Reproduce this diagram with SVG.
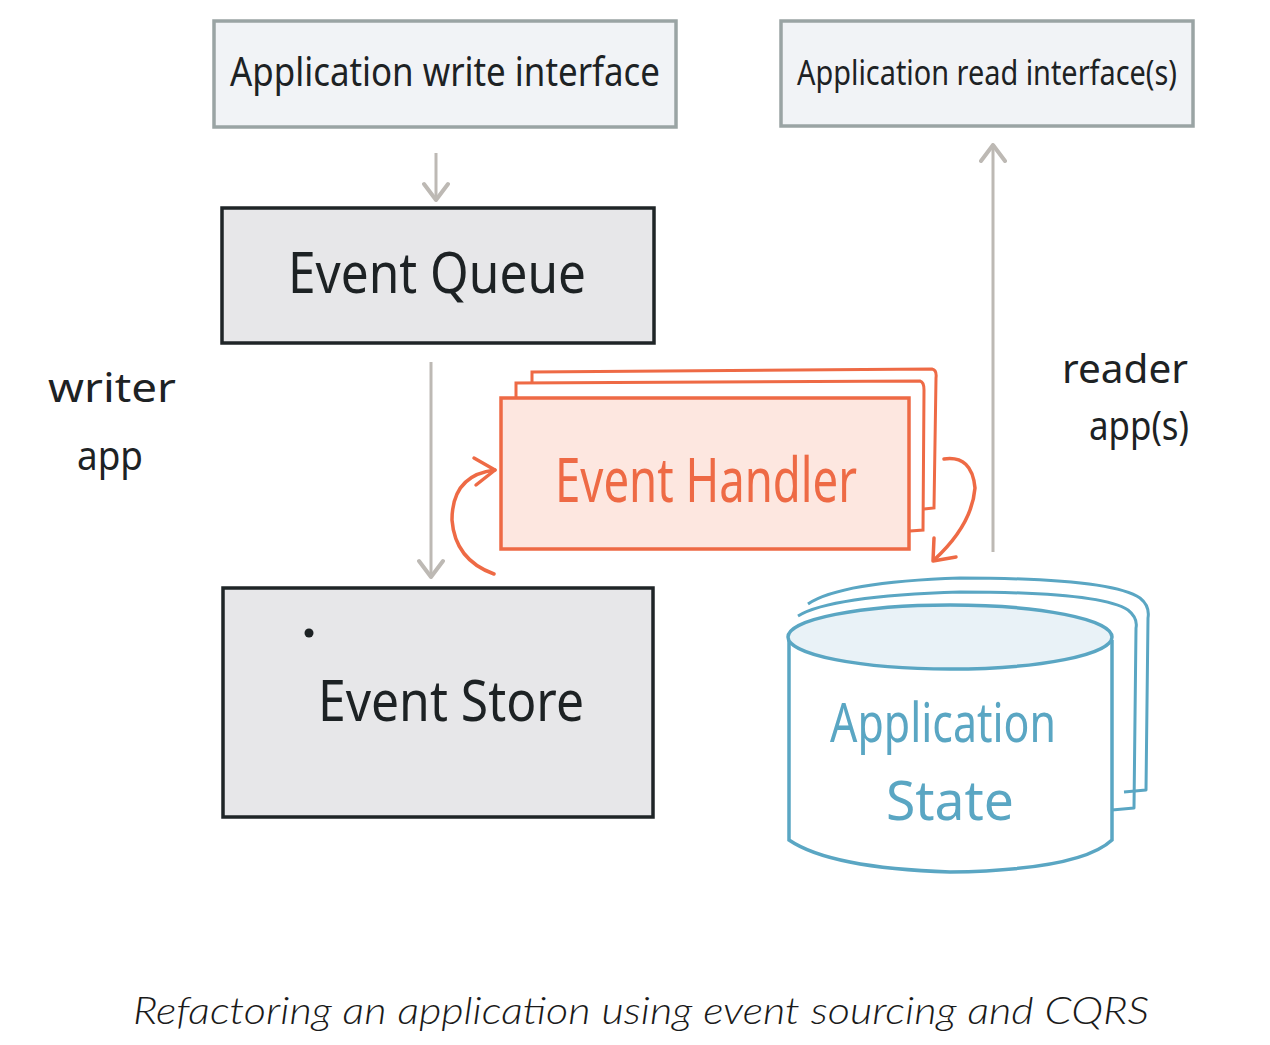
<svg xmlns="http://www.w3.org/2000/svg" width="1270" height="1045" viewBox="0 0 1270 1045">
<defs>
<style>
.iface{fill:#f1f3f6;stroke:#9aa4a4;stroke-width:3.5}
.box{fill:#e7e7e9;stroke:#1f2527;stroke-width:3.5}
.hand{font-family:"Comic Sans MS","Noto Sans","DejaVu Sans",sans-serif}
.dark{fill:#1d2224}
.orange{fill:#ee6a45}
.blue{fill:#5aa6c3}
.conn{stroke:#bdb9b4;stroke-width:3;fill:none}
.oconn{stroke:#ee6a45;stroke-width:3.5;fill:none;stroke-linecap:round;stroke-linejoin:round}
.eh{fill:#fde7e0;stroke:#ee6a45;stroke-width:3.5}
.ehb{fill:#fff;stroke:#ee6a45;stroke-width:3}
.cylb{fill:none;stroke:#5aa6c3;stroke-width:3;stroke-linejoin:round}
.cyl{fill:#fff;stroke:#5aa6c3;stroke-width:3.5}
</style>
<marker id="ag" viewBox="0 0 22 28" refX="20" refY="14" markerWidth="22" markerHeight="28" markerUnits="userSpaceOnUse" orient="auto">
<path d="M4 2 L20 14 L4 26" fill="none" stroke="#bdb9b4" stroke-width="4" stroke-linecap="round" stroke-linejoin="round"/>
</marker>
</defs>
<rect width="1270" height="1045" fill="#ffffff"/>

<g id="write-interface">
<rect class="iface" x="214" y="21" width="462" height="106"/>
<text class="hand dark" x="445" y="86" font-size="40" text-anchor="middle" textLength="430" lengthAdjust="spacingAndGlyphs">Application write interface</text>
</g>

<g id="read-interface">
<rect class="iface" x="781" y="21" width="412" height="105"/>
<text class="hand dark" x="987" y="85" font-size="35" text-anchor="middle" textLength="380" lengthAdjust="spacingAndGlyphs">Application read interface(s)</text>
</g>

<g id="event-queue">
<rect class="box" x="222" y="208" width="432" height="135"/>
<text class="hand dark" x="437" y="293" font-size="56" text-anchor="middle" textLength="298" lengthAdjust="spacingAndGlyphs">Event Queue</text>
</g>

<g id="event-store">
<rect class="box" x="223" y="588" width="430" height="229"/>
<circle cx="309" cy="633" r="4.5" fill="#1d2224"/>
<text class="hand dark" x="451" y="721" font-size="56" text-anchor="middle" textLength="266" lengthAdjust="spacingAndGlyphs">Event Store</text>
</g>

<g id="event-handler">
<path class="ehb" d="M532 384 L532 372 L932 369 Q937 370 936 378 L934 508 L924 509"/>
<path class="ehb" d="M516 397 L516 383 L920 381 Q924 382 924 390 L923 530 L910 531"/>
<rect class="eh" x="501" y="398" width="408" height="151"/>
<text class="hand orange" x="706" y="502" font-size="62" text-anchor="middle" textLength="302" lengthAdjust="spacingAndGlyphs">Event Handler</text>
</g>

<g id="application-state">
<path class="cylb" d="M808 604 Q840 582 960 578 Q1110 578 1140 598 Q1150 606 1148 618 L1146 790 L1124 792"/>
<path class="cylb" d="M798 616 Q830 596 960 592 Q1100 592 1128 610 Q1138 618 1136 628 L1134 808 L1112 810"/>
<path class="cyl" d="M789 638 L789 840 Q830 868 950 872 Q1080 870 1112 840 L1112 640"/>
<ellipse cx="950" cy="637" rx="162" ry="32" fill="#e9f2f7" stroke="#5aa6c3" stroke-width="3.5"/>
<text class="hand blue" x="943" y="742" font-size="54" text-anchor="middle" textLength="226" lengthAdjust="spacingAndGlyphs">Application</text>
<text class="hand blue" x="950" y="820" font-size="54" text-anchor="middle" textLength="128" lengthAdjust="spacingAndGlyphs">State</text>
</g>

<g id="writer-app-label">
<text class="hand dark" x="112" y="402" font-size="40" text-anchor="middle" textLength="128" lengthAdjust="spacingAndGlyphs">writer</text>
<text class="hand dark" x="110" y="470" font-size="40" text-anchor="middle" textLength="66" lengthAdjust="spacingAndGlyphs">app</text>
</g>

<g id="reader-app-label">
<text class="hand dark" x="1125" y="383" font-size="40" text-anchor="middle" textLength="126" lengthAdjust="spacingAndGlyphs">reader</text>
<text class="hand dark" x="1139" y="440" font-size="40" text-anchor="middle" textLength="100" lengthAdjust="spacingAndGlyphs">app(s)</text>
</g>

<g id="connectors">
<line class="conn" x1="436" y1="153" x2="436" y2="200" marker-end="url(#ag)"/>
<line class="conn" x1="431" y1="362" x2="431" y2="577" marker-end="url(#ag)"/>
<line class="conn" x1="993" y1="552" x2="993" y2="145" marker-end="url(#ag)"/>
<path class="oconn" d="M494 574 Q455 560 452 520 Q452 475 495 470"/>
<path class="oconn" d="M474 458 L495 470 L476 485"/>
<path class="oconn" d="M944 459 Q972 455 975 488 Q972 525 934 560"/>
<path class="oconn" d="M934 538 L933 561 L956 557"/>
</g>

<g id="caption">
<text x="641" y="1024" font-family="Lato, 'Open Sans', sans-serif" font-style="italic" font-weight="300" font-size="37" fill="#1a1a1a" text-anchor="middle" textLength="1016" lengthAdjust="spacingAndGlyphs">Refactoring an application using event sourcing and CQRS</text>
</g>
</svg>
